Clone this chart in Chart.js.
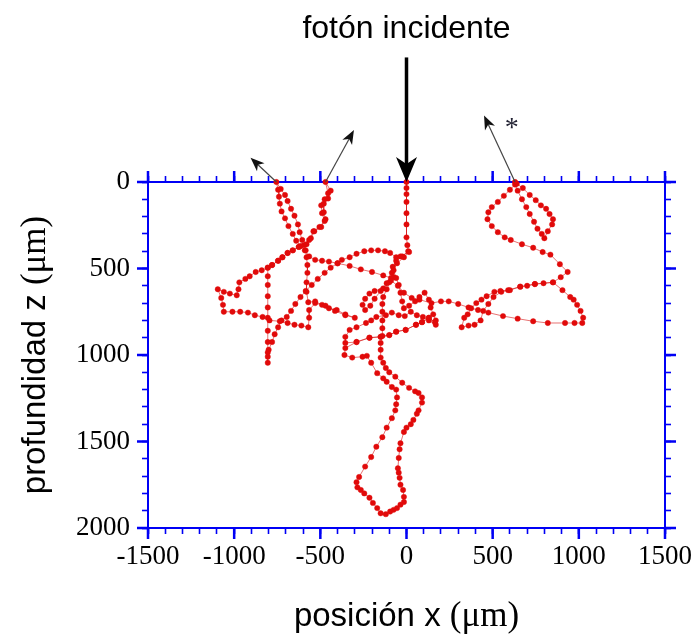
<!DOCTYPE html>
<html>
<head>
<meta charset="utf-8">
<script src="https://cdn.jsdelivr.net/npm/chart.js@4.4.1/dist/chart.umd.min.js"></script>
<style>
  html, body { margin: 0; padding: 0; background: #fff; }
  canvas { display: block; }
</style>
</head>
<body>
<canvas id="walk" width="699" height="636"></canvas>
<script>
// photon random walk: lateral position x and depth z, in micrometres
const posX = [
  0, 0, 0, 0, 0, 0, 0, 5, 10, -25, -60, -80, -85, -75,
  -100, -135, -185, -215, -240, -255, -240, -210, -185, -150, -115, -90,
  -135, -200, -265, -330, -400,
  -440, -475, -515, -550, -585, -615, -645, -670, -695, -725,
  -745, -765, -780, -800, -805, -805, -805, -805, -805, -805, -805, -805, -805, -805, -805,
  -780, -745, -720, -690, -660, -625, -595, -565, -540, -505, -475, -490, -495, -475, -455, -470,
  -440, -455, -480, -480, -470, -495, -535, -555, -580,
  -605, -620, -630, -650, -670, -690, -705, -730, -755,
  -745, -740, -735, -725, -705, -685, -660, -640, -615, -585,
  -580, -575, -575, -580, -580, -570,
  -530, -490, -450, -405, -355, -300, -355, -415, -470, -530,
  -565, -565, -570, -610, -650, -690, -735, -795, -835, -880,
  -920, -965, -1010, -1060, -1065, -1075, -1095, -1060, -1025, -985,
  -975, -970, -935, -910, -875, -840, -805,
  -780, -745, -720, -690, -660, -625, -590, -565, -530, -490, -450, -400,
  -375, -330, -290, -245, -205, -165, -125, -95, -60, -35, 15, -15, -55, -75, -60,
  -45, -35, -25, -15, 15, 50, 75, 105, 130, 140, 155, 170, 170, 130, 95, 60, 25, -10,
  -45, -85, -120, -175, -205, -235, -290, -330, -355, -355, -290, -215, -150, -100, -60, -5, 55, 90, 130, 165,
  130, 90, 55, -5, -60, -100, -150, -215, -290, -355, -360, -315, -255, -230,
  -205, -170, -135, -115, -85, -60, -55, -60, -65, -85,
  -115, -140, -175, -205, -240, -275, -290, -285, -265, -245,
  -215, -195, -170, -150, -120, -95, -75, -55, -35, -15,
  -15, -20, -35, -40, -45, -50, -45, -40, -35, -15,
  0, 25, 40, 60, 70, 90, 90, 70, 50, 15,
  -25, -65, -100, -120, -135, -150, -150, -150, -140, -140,
  -140, -140, -140, -135, -115, -90,
  -50, -15, 30, 75, 145, 200, 245, 300, 360, 415, 475, 560, 645, 735, 820, 920, 975, 1020,
  1025, 1010, 990, 970, 950, 905, 850, 795, 745, 700,
  660, 590, 545, 510, 465, 435, 405, 375, 355, 335,
  320, 360, 395, 430, 445, 475, 505, 550, 600, 660,
  745, 850, 895, 935, 890, 835, 790, 735, 670, 605,
  570, 530, 495, 470, 475, 495, 530, 565, 600, 630,
  645, 670, 695, 715, 740, 760, 785, 800, 820, 845,
  850, 830, 810, 780, 750, 715, 675, 640, 630
];
const depthZ = [
  0, 35, 70, 115, 180, 245, 320, 365, 400, 430, 455, 490, 525, 550,
  580, 615, 630, 645, 675, 710, 740, 715, 675, 630, 585, 555,
  540, 520, 505, 485, 470,
  495, 525, 560, 595, 630, 665, 705, 745, 780, 800,
  840, 880, 925, 970, 1010, 1045, 985, 925, 860, 785, 725, 660, 595, 545, 495,
  480, 455, 435, 410, 395, 375, 365, 335, 285, 260, 225, 180, 135, 100, 65, 0,
  50, 95, 125, 175, 215, 260, 285, 325, 360,
  335, 290, 245, 195, 155, 110, 75, 40, 0,
  45, 85, 125, 170, 210, 255, 300, 340, 370, 395,
  435, 480, 525, 580, 635, 695,
  690, 710, 730, 740, 765, 785, 770, 745, 715, 700,
  740, 785, 840, 830, 825, 815, 805, 800, 780, 770,
  755, 750, 750, 750, 710, 670, 620, 635, 645, 655,
  620, 580, 560, 545, 520, 510, 495,
  480, 455, 435, 410, 395, 375, 395, 430, 450, 455, 460, 470,
  450, 435, 415, 400, 395, 395, 400, 410, 435, 430, 405, 435, 470, 510, 555,
  595, 640, 690, 730, 715, 690, 665, 640, 680, 725, 765, 800, 825, 800, 780, 770, 750, 775,
  770, 755, 770, 780, 800, 815, 840, 855, 895, 930, 925, 900, 895, 885, 865, 855, 825, 810, 785, 810,
  785, 810, 825, 855, 865, 885, 895, 900, 925, 960, 1000, 1015, 1010, 1005,
  1045, 1105, 1135, 1155, 1185, 1200, 1245, 1285, 1320, 1365,
  1420, 1475, 1530, 1590, 1645, 1705, 1735, 1765, 1780, 1800,
  1825, 1855, 1885, 1915, 1920, 1905, 1895, 1885, 1865, 1850,
  1820, 1780, 1750, 1710, 1680, 1655, 1595, 1545, 1510, 1445,
  1420, 1400, 1375, 1340, 1320, 1275, 1245, 1220, 1210, 1190,
  1160, 1125, 1100, 1075, 1045, 1015, 970, 930, 890, 845,
  800, 750, 705, 665, 620, 570,
  600, 640, 670, 680, 700, 690, 690, 705, 725, 740, 755, 775, 790, 805, 815, 815, 815, 815,
  785, 745, 710, 680, 665, 625, 580, 585, 590, 600,
  605, 625, 630, 635, 660, 680, 700, 730, 765, 785,
  840, 830, 825, 800, 745, 705, 665, 635, 625, 605,
  590, 580, 550, 520, 475, 420, 405, 380, 360, 335,
  320, 290, 255, 215, 175, 145, 115, 80, 45, 15,
  50, 100, 145, 185, 230, 270, 300, 325, 285, 245,
  215, 185, 155, 135, 105, 75, 35, 10, 0
];

const xTickLabels = [-1500, -1000, -500, 0, 500, 1000, 1500];
const zTickLabels = [0, 500, 1000, 1500, 2000];

// photons leaving the surface: [x0, z0, x1, z1], negative z is above the sample
const exitArrows = [[-755, 0, -905, -140], [-470, 0, -305, -300], [630, 0, 450, -385]];
const incidentArrow = [0, -720, 0, 0];
const starAt = [605, -340];

const AXIS_BLUE = '#0000f5';
const SERIF = '"Liberation Serif", "Times New Roman", serif';
const SANS = '"Liberation Sans", Arial, sans-serif';

const path = posX.map((x, i) => ({ x: x, y: depthZ[i] }));

function labelsOnly(list) {
  return v => (list.includes(v) ? String(v) : '');
}

function drawMixed(ctx, parts, cx, cy, angle) {
  ctx.save();
  ctx.translate(cx, cy);
  ctx.rotate(angle);
  ctx.textAlign = 'left';
  ctx.textBaseline = 'alphabetic';
  let total = 0;
  parts.forEach(p => { ctx.font = p.font; total += ctx.measureText(p.text).width; });
  let x = -total / 2;
  parts.forEach(p => {
    ctx.font = p.font;
    ctx.fillText(p.text, x, 0);
    x += ctx.measureText(p.text).width;
  });
  ctx.restore();
}

function drawArrow(ctx, x0, y0, x1, y1, len, half, width) {
  const ang = Math.atan2(y1 - y0, x1 - x0);
  ctx.lineWidth = width;
  ctx.beginPath();
  ctx.moveTo(x0, y0);
  ctx.lineTo(x1 - Math.cos(ang) * len * 0.6, y1 - Math.sin(ang) * len * 0.6);
  ctx.stroke();
  ctx.save();
  ctx.translate(x1, y1);
  ctx.rotate(ang);
  ctx.beginPath();
  ctx.moveTo(0, 0);
  ctx.lineTo(-len, -half);
  ctx.lineTo(-len * 0.72, 0);
  ctx.lineTo(-len, half);
  ctx.closePath();
  ctx.fill();
  ctx.restore();
}

// blue frame running a little past the corners, plus the longer major ticks
const framePlugin = {
  id: 'frame',
  beforeDatasetsDraw(chart) {
    const { ctx, chartArea: a, scales } = chart;
    const ext = 10, major = 11;
    ctx.save();
    ctx.strokeStyle = AXIS_BLUE;
    ctx.lineWidth = 2;
    ctx.beginPath();
    ctx.moveTo(a.left - ext, a.top); ctx.lineTo(a.right + ext, a.top);
    ctx.moveTo(a.left - ext, a.bottom); ctx.lineTo(a.right + ext, a.bottom);
    ctx.moveTo(a.left, a.top - ext); ctx.lineTo(a.left, a.bottom + ext);
    ctx.moveTo(a.right, a.top - ext); ctx.lineTo(a.right, a.bottom + ext);
    ctx.stroke();
    ctx.lineWidth = 2.5;
    ctx.beginPath();
    xTickLabels.forEach(v => {
      const px = scales.x.getPixelForValue(v);
      ctx.moveTo(px, a.bottom); ctx.lineTo(px, a.bottom + major);
      ctx.moveTo(px, a.top); ctx.lineTo(px, a.top - major);
    });
    zTickLabels.forEach(v => {
      const py = scales.y.getPixelForValue(v);
      ctx.moveTo(a.left, py); ctx.lineTo(a.left - major, py);
      ctx.moveTo(a.right, py); ctx.lineTo(a.right + major, py);
    });
    ctx.stroke();
    ctx.restore();
  },
  afterDraw(chart) {
    const { ctx, chartArea: a, scales: { x, y } } = chart;
    ctx.save();
    ctx.fillStyle = '#000';

    // titles
    ctx.textAlign = 'center';
    ctx.textBaseline = 'alphabetic';
    ctx.font = '32px ' + SANS;
    ctx.fillText('fotón incidente', x.getPixelForValue(0), 38);
    drawMixed(ctx, [
      { text: 'posición x ', font: '33px ' + SANS },
      { text: '(μm)', font: '35px ' + SERIF }
    ], (a.left + a.right) / 2, 626, 0);
    drawMixed(ctx, [
      { text: 'profundidad z ', font: '33px ' + SANS },
      { text: '(μm)', font: '35px ' + SERIF }
    ], 45, (a.top + a.bottom) / 2, -Math.PI / 2);

    // incident photon
    ctx.strokeStyle = '#000';
    ctx.fillStyle = '#000';
    drawArrow(ctx,
      x.getPixelForValue(incidentArrow[0]), y.getPixelForValue(incidentArrow[1]),
      x.getPixelForValue(incidentArrow[2]), y.getPixelForValue(incidentArrow[3]),
      25, 10.5, 3.5);

    // escaping photons
    ctx.strokeStyle = '#444';
    ctx.fillStyle = '#111';
    exitArrows.forEach(([x0, z0, x1, z1]) => {
      drawArrow(ctx,
        x.getPixelForValue(x0), y.getPixelForValue(z0),
        x.getPixelForValue(x1), y.getPixelForValue(z1),
        14, 5.5, 1.2);
    });

    ctx.fillStyle = '#223';
    ctx.font = '28px ' + SERIF;
    ctx.textAlign = 'center';
    ctx.textBaseline = 'middle';
    ctx.fillText('*', x.getPixelForValue(starAt[0]) + 1, y.getPixelForValue(starAt[1]) + 5);
    ctx.restore();
  }
};

function axisOptions(position, min, max, list, showLabels, size) {
  const horizontal = position === 'top' || position === 'bottom';
  return {
    type: 'linear',
    position: position,
    min: min,
    max: max,
    reverse: !horizontal,
    afterFit(s) {
      if (horizontal) s.height = size; else s.width = size;
    },
    border: { display: false },
    grid: {
      drawOnChartArea: false,
      drawTicks: true,
      tickLength: 6,
      tickColor: AXIS_BLUE,
      tickWidth: 1.6
    },
    ticks: {
      stepSize: 100,
      autoSkip: false,
      maxRotation: 0,
      minRotation: 0,
      padding: horizontal ? 7 : 12,
      color: '#000',
      font: { family: SERIF, size: 27 },
      callback: showLabels ? labelsOnly(list) : () => ''
    }
  };
}

new Chart(document.getElementById('walk'), {
  type: 'scatter',
  data: {
    datasets: [{
      data: path,
      showLine: true,
      clip: false,
      borderColor: 'rgba(215, 20, 20, 0.6)',
      borderWidth: 1,
      pointRadius: 2.7,
      pointBackgroundColor: 'rgb(225, 10, 10)',
      pointBorderColor: 'rgb(225, 10, 10)',
      pointBorderWidth: 0.4
    }]
  },
  options: {
    responsive: false,
    devicePixelRatio: 1,
    animation: false,
    layout: { padding: 0 },
    plugins: {
      legend: { display: false },
      tooltip: { enabled: false }
    },
    scales: {
      x: axisOptions('bottom', -1500, 1500, xTickLabels, true, 108),
      x2: axisOptions('top', -1500, 1500, xTickLabels, false, 182),
      y: axisOptions('left', 0, 2000, zTickLabels, true, 148),
      y2: axisOptions('right', 0, 2000, zTickLabels, false, 31)
    }
  },
  plugins: [framePlugin]
});
</script>
</body>
</html>
